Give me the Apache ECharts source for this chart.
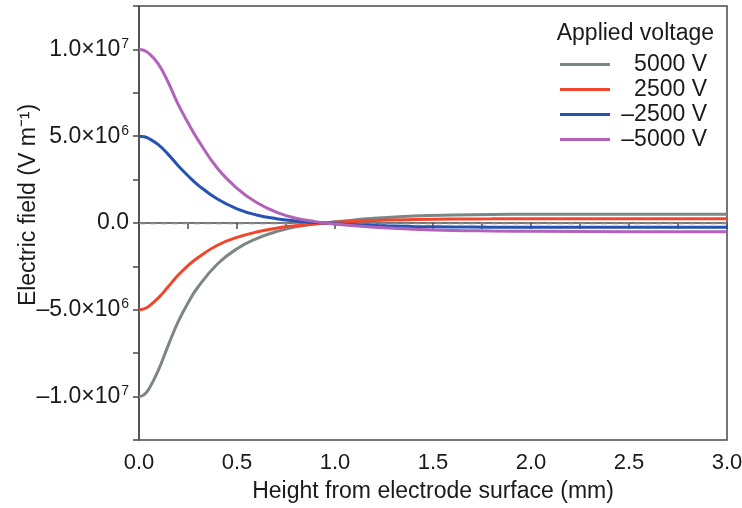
<!DOCTYPE html>
<html>
<head>
<meta charset="utf-8">
<script src="https://cdn.jsdelivr.net/npm/echarts@6/dist/echarts.min.js"></script>
<style>
  html, body { margin: 0; padding: 0; background: #fff; }
  #chart { width: 742px; height: 508px; }
</style>
</head>
<body>
<div id="chart"></div>
<script>
// Height above the electrode surface (mm)
const heights = [0, 0.025, 0.05, 0.1, 0.15, 0.2, 0.25, 0.3, 0.4, 0.5, 0.6, 0.7, 0.8, 0.9, 0.95, 1.0, 1.1, 1.2, 1.4, 1.6, 1.8, 2.0, 2.5, 3.0];

// Electric field (V/m) for each applied voltage
const field5000 = [-1.0e7, -9.9e6, -9.58e6, -8.45e6, -7.02e6, -5.68e6, -4.6e6, -3.7e6, -2.36e6, -1.48e6, -0.9e6, -0.5e6, -0.22e6, -0.06e6, 0, 0.07e6, 0.18e6, 0.27e6, 0.4e6, 0.46e6, 0.49e6, 0.5e6, 0.5e6, 0.5e6];
const field2500 = [-5.0e6, -4.95e6, -4.8e6, -4.3e6, -3.66e6, -3.0e6, -2.45e6, -2.0e6, -1.28e6, -0.83e6, -0.52e6, -0.3e6, -0.16e6, -0.05e6, 0, 0.04e6, 0.1e6, 0.15e6, 0.2e6, 0.23e6, 0.24e6, 0.25e6, 0.25e6, 0.25e6];
const fieldNeg2500 = [5.0e6, 4.97e6, 4.87e6, 4.5e6, 3.94e6, 3.3e6, 2.72e6, 2.2e6, 1.38e6, 0.82e6, 0.46e6, 0.25e6, 0.12e6, 0.03e6, 0, -0.04e6, -0.1e6, -0.15e6, -0.2e6, -0.23e6, -0.24e6, -0.25e6, -0.25e6, -0.25e6];
const fieldNeg5000 = [1.0e7, 9.95e6, 9.78e6, 9.14e6, 8.08e6, 6.83e6, 5.77e6, 4.8e6, 3.15e6, 2.0e6, 1.18e6, 0.63e6, 0.27e6, 0.08e6, 0, -0.06e6, -0.16e6, -0.25e6, -0.36e6, -0.43e6, -0.46e6, -0.48e6, -0.5e6, -0.5e6];

const seriesNames = ['5000 V', '2500 V', '\u20132500 V', '\u20135000 V'];
const seriesValues = [field5000, field2500, fieldNeg2500, fieldNeg5000];
const seriesColors = ['#7d8686', '#f2452c', '#2652b2', '#b262bb'];

// Tick labels on the field axis: mantissa and power of ten
const yTickLabels = {
  '10000000': ['1.0\u00d710', '7'],
  '5000000': ['5.0\u00d710', '6'],
  '0': ['0.0', ''],
  '-5000000': ['\u20135.0\u00d710', '6'],
  '-10000000': ['\u20131.0\u00d710', '7']
};

const font = 'Liberation Sans, Arial, sans-serif';
const axisColor = '#4a4a4a';
const textColor = '#1a1a1a';

const chart = echarts.init(document.getElementById('chart'), null, { renderer: 'canvas' });

const series = seriesNames.map((name, i) => ({
  name: name,
  type: 'line',
  data: heights.map((h, k) => [h, seriesValues[i][k]]),
  smooth: 0.45,
  showSymbol: false,
  lineStyle: { width: 3, color: seriesColors[i] },
  itemStyle: { color: seriesColors[i] },
  z: 3 + i
}));

// Dashed zero reference line
series[0].markLine = {
  silent: true,
  symbol: 'none',
  label: { show: false },
  lineStyle: { type: [6, 5], color: '#8a8a8a', width: 1.3 },
  data: [{ yAxis: 0 }],
  z: 1
};

chart.setOption({
  animation: false,
  backgroundColor: '#fff',
  grid: {
    left: 139, right: 15, top: 6, bottom: 68,
    outerBoundsMode: 'none',
    containLabel: false,
    show: true, borderColor: axisColor, borderWidth: 1.5,
    backgroundColor: 'transparent'
  },
  legend: {
    data: seriesNames,
    orient: 'vertical',
    right: 30,
    top: 47,
    itemWidth: 50,
    itemHeight: 14,
    itemGap: 0,
    icon: 'path://M0,6 L50,6 L50,9 L0,9 Z',
    formatter: name => '{r|' + name + '}',
    textStyle: {
      fontFamily: font, fontSize: 23, color: textColor, lineHeight: 25,
      rich: { r: { width: 92, align: 'right', fontFamily: font, fontSize: 23, color: textColor, lineHeight: 25 } }
    }
  },
  title: {
    text: 'Applied voltage',
    right: 23,
    top: 17,
    textStyle: { fontFamily: font, fontSize: 23, fontWeight: 'normal', color: textColor }
  },
  xAxis: {
    type: 'value',
    min: 0, max: 3, interval: 0.25,
    name: 'Height from electrode surface (mm)',
    nameLocation: 'middle',
    nameGap: 40,
    nameMoveOverlap: false,
    nameTextStyle: { fontFamily: font, fontSize: 23, color: textColor },
    axisLine: { lineStyle: { color: axisColor, width: 1.5 } },
    axisTick: { inside: false, length: 6, lineStyle: { color: axisColor, width: 1.5 } },
    splitLine: { show: false },
    axisLabel: {
      fontFamily: font, fontSize: 22, color: textColor, margin: 12,
      formatter: v => (Math.abs(v * 2 - Math.round(v * 2)) < 1e-9 ? v.toFixed(1) : '')
    }
  },
  yAxis: {
    type: 'value',
    min: -1.25e7, max: 1.25e7, interval: 2.5e6,
    name: 'Electric field (V m\u207b\u00b9)',
    nameLocation: 'middle',
    nameGap: 99,
    nameMoveOverlap: false,
    nameRotate: 90,
    nameTextStyle: { fontFamily: font, fontSize: 23, color: textColor, padding: [0, 0, 0, 36] },
    axisLine: { lineStyle: { color: axisColor, width: 1.5 } },
    axisTick: { inside: false, length: 6, lineStyle: { color: axisColor, width: 1.5 } },
    splitLine: { show: false },
    axisLabel: {
      fontFamily: font, fontSize: 23, color: textColor, margin: 10,
      formatter: v => {
        const t = yTickLabels[String(Math.round(v))];
        if (!t) return '';
        return t[1] ? '{m|' + t[0] + '}{s|' + t[1] + '}' : '{m|' + t[0] + '}';
      },
      rich: {
        m: { fontFamily: font, fontSize: 23, color: textColor, lineHeight: 26 },
        s: { fontFamily: font, fontSize: 14, color: textColor, lineHeight: 26, padding: [0, 0, 11, 1] }
      }
    }
  },
  series: series
});
</script>
</body>
</html>
